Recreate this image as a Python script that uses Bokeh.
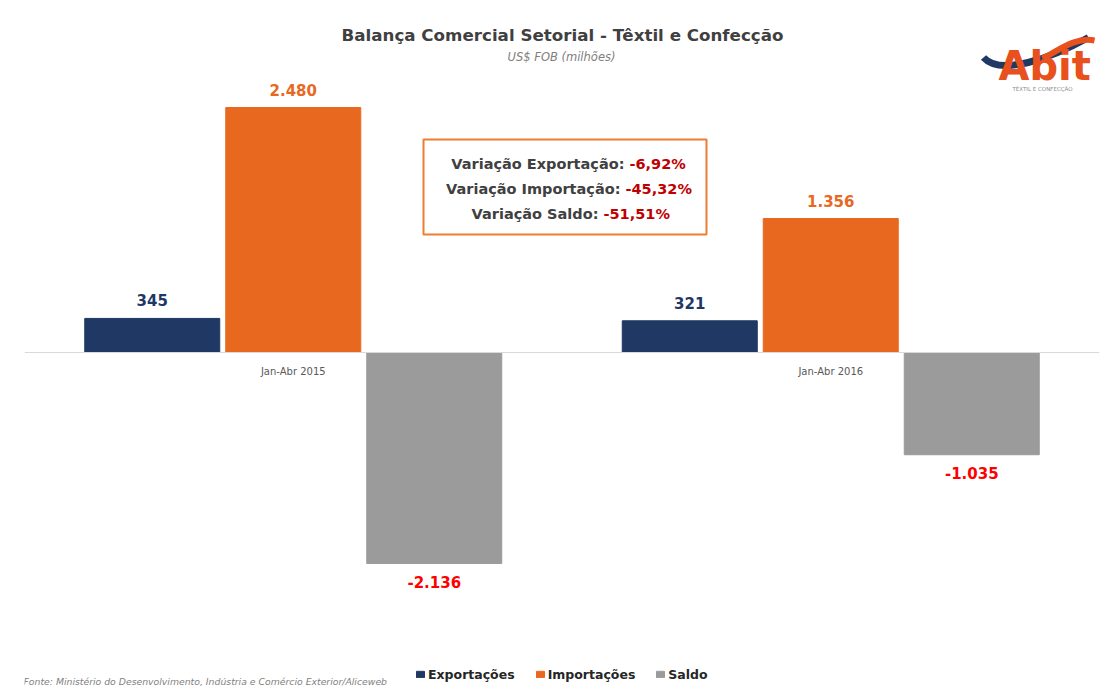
from bokeh.plotting import figure
from bokeh.models import FactorRange, Range1d, ColumnDataSource, Span, Legend, LegendItem
from bokeh.transform import dodge
from bokeh.core.properties import value
from bokeh.embed import file_html
from bokeh.resources import INLINE

# ---- data ----
periods = ["Jan-Abr 2015", "Jan-Abr 2016"]
exportacoes = [345, 321]
importacoes = [2480, 1356]
saldo = [-2136, -1035]
series_names = ["Exportações", "Importações", "Saldo"]
variacao_labels = ["Variação Exportação: ", "Variação Importação: ", "Variação Saldo: "]
variacao_values = ["-6,92%", "-45,32%", "-51,51%"]

title = "Balança Comercial Setorial - Têxtil e Confecção"
subtitle = "US$ FOB (milhões)"
fonte = "Fonte: Ministério do Desenvolvimento, Indústria e Comércio Exterior/Aliceweb"

# ---- layout helpers (page px -> data) ----
W, H = 1107, 693
LEFT, RIGHT = 24, 8
unit_px = (W - LEFT - RIGHT) / len(periods)
k = 245 / 2480.0          # px per value unit
base_py = 352             # page y of zero line
def X(px):
    return (px - LEFT) / unit_px
def Y(py):
    return (base_py - py) / k

FONT = "DejaVu Sans"
NAVY = "#1F3864"
ORANGE = "#E8681F"
GRAY = "#9B9B9B"
RED = "#FF0000"
DARK = "#404040"

p = figure(width=W, height=H, output_backend="svg", toolbar_location=None,
           x_range=FactorRange(*periods, range_padding=0),
           y_range=Range1d(Y(H), Y(0)),
           x_axis_location=None, y_axis_location=None,
           min_border_left=LEFT, min_border_right=RIGHT, min_border_top=0, min_border_bottom=0)
p.grid.visible = False
p.outline_line_color = None
p.background_fill_color = "white"
p.border_fill_color = "white"

p.add_layout(Span(location=0, dimension="width", line_color="#D9D9D9", line_width=1))

bw = 135 / unit_px
off = 141 / unit_px
series = [exportacoes, importacoes, saldo]
colors = [NAVY, ORANGE, GRAY]
label_colors = [NAVY, ORANGE, RED]
offsets = [-off, 0, off]
renderers = []
for name, vals, col, lcol, o in zip(series_names, series, colors, label_colors, offsets):
    src = ColumnDataSource(dict(
        cat=periods, v=vals,
        ly=[v + (18 / k if v > 0 else -18 / k) for v in vals],
        txt=[f"{v:,}".replace(",", ".") for v in vals]))
    r = p.vbar(x=dodge("cat", o, range=p.x_range), top="v", bottom=0, width=bw,
               source=src, fill_color=col, line_color=col)
    renderers.append((name, r))
    p.text(x=dodge("cat", o, range=p.x_range), y="ly", text="txt", source=src,
           text_color=lcol, text_font=value(FONT), text_font_style="bold",
           text_font_size="15px", text_align="center", text_baseline="middle")

# category labels near the zero line
p.text(x=periods, y=[Y(371)] * len(periods), text=periods, text_font=value(FONT),
       text_font_size="10px", text_color="#595959", text_align="center", text_baseline="middle")

# title / subtitle
p.text(x=[X(562)], y=[Y(34)], text=[title], text_font=value(FONT), text_font_style="bold",
       text_font_size="16.7px", text_color=DARK, text_align="center", text_baseline="middle")
p.text(x=[X(561)], y=[Y(56)], text=[subtitle], text_font=value(FONT), text_font_style="italic",
       text_font_size="11.5px", text_color="#7F7F7F", text_align="center", text_baseline="middle")

# variation box
p.quad(left=[X(423)], right=[X(706)], top=[Y(139)], bottom=[Y(234)],
       fill_color="white", line_color="#ED7D31", line_width=2)
split_px = [629, 625, 603]
line_py = [163, 188, 213]
p.text(x=[X(s) for s in split_px], y=[Y(l) for l in line_py], text=variacao_labels,
       text_font=value(FONT), text_font_style="bold", text_font_size="14.5px",
       text_color=DARK, text_align="right", text_baseline="middle")
p.text(x=[X(s) for s in split_px], y=[Y(l) for l in line_py], text=variacao_values,
       text_font=value(FONT), text_font_style="bold", text_font_size="14.5px",
       text_color="#C00000", text_align="left", text_baseline="middle")

# logo approximation
p.bezier(x0=[X(983)], y0=[Y(57)], x1=[X(1088)], y1=[Y(37)],
         cx0=[X(1000)], cy0=[Y(76)], cx1=[X(1050)], cy1=[Y(58)],
         line_color=NAVY, line_width=7)
p.text(x=[X(998)], y=[Y(65)], text=["Abit"], text_font=value(FONT), text_font_style="bold",
       text_font_size="40px", text_color="#E8501E", text_align="left", text_baseline="middle")
p.bezier(x0=[X(1042)], y0=[Y(58)], x1=[X(1094)], y1=[Y(40)],
         cx0=[X(1058)], cy0=[Y(50)], cx1=[X(1075)], cy1=[Y(36)],
         line_color="#E8501E", line_width=6)
p.text(x=[X(1042)], y=[Y(88)], text=["TÊXTIL E CONFECÇÃO"], text_font=value(FONT),
       text_font_size="5.5px", text_color="#8C8C8C", text_align="center", text_baseline="middle")

# footnote
p.text(x=[X(23)], y=[Y(681)], text=[fonte], text_font=value(FONT), text_font_style="italic",
       text_font_size="9.3px", text_color="#7F7F7F", text_align="left", text_baseline="middle")

legend = Legend(items=[LegendItem(label=n, renderers=[r]) for n, r in renderers],
                orientation="horizontal", location=(415 - LEFT, 11),
                glyph_width=10, glyph_height=8, label_standoff=3, spacing=20,
                padding=0, margin=0, label_height=16,
                label_text_font=FONT, label_text_font_style="bold",
                label_text_font_size="12.5px", label_text_color="#262626",
                border_line_color=None, background_fill_alpha=0)
p.add_layout(legend)

open("out.html", "w").write(file_html(p, INLINE))
